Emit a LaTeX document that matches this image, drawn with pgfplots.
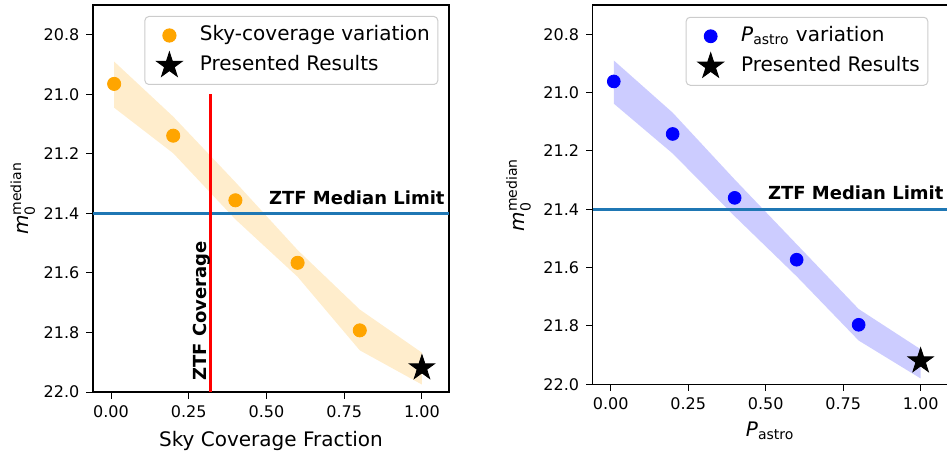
\documentclass[border=0pt]{standalone}
\usepackage{pgfplots}
\pgfplotsset{compat=1.18}
\usepackage{amsmath}
\usepackage{fontspec}
\setmainfont{DejaVu Sans}
\definecolor{mplblue}{HTML}{1F77B4}
\definecolor{orangefill}{HTML}{FFEDCC}
\definecolor{bluefill}{HTML}{CCCCFF}
\definecolor{morange}{HTML}{FFA500}
\definecolor{mblue}{HTML}{0000FF}
\pgfdeclareplotmark{fstar}{%
 \pgfpathmoveto{\pgfqpointpolar{90}{\pgfplotmarksize}}%
 \pgfpathlineto{\pgfqpointpolar{126}{0.382\pgfplotmarksize}}%
 \pgfpathlineto{\pgfqpointpolar{162}{\pgfplotmarksize}}%
 \pgfpathlineto{\pgfqpointpolar{198}{0.382\pgfplotmarksize}}%
 \pgfpathlineto{\pgfqpointpolar{234}{\pgfplotmarksize}}%
 \pgfpathlineto{\pgfqpointpolar{270}{0.382\pgfplotmarksize}}%
 \pgfpathlineto{\pgfqpointpolar{306}{\pgfplotmarksize}}%
 \pgfpathlineto{\pgfqpointpolar{342}{0.382\pgfplotmarksize}}%
 \pgfpathlineto{\pgfqpointpolar{18}{\pgfplotmarksize}}%
 \pgfpathlineto{\pgfqpointpolar{54}{0.382\pgfplotmarksize}}%
 \pgfpathclose
 \pgfusepathqfillstroke}
\pgfplotsset{myax/.style={
 scale only axis, anchor=south west,
 y dir=reverse, ymin=20.7, ymax=22.0, xmin=-0.058, xmax=1.087,
 xtick={0,0.25,0.5,0.75,1}, ytick={20.8,21,21.2,21.4,21.6,21.8,22},
 tick pos=left, tick align=outside, major tick length=3.3pt,
 tick style={black, line width=0.5pt}, axis line style={line width=0.6pt},
 xticklabel style={/pgf/number format/.cd, fixed, fixed zerofill, precision=2},
 yticklabel style={/pgf/number format/.cd, fixed, fixed zerofill, precision=1},
 /pgf/number format/assume math mode=true,
 ticklabel style={font=\fontsize{8}{9.6}\selectfont},
 label style={font=\fontsize{10}{12}\selectfont},
 legend cell align=left,
 legend image code/.code={\path (0pt,0pt) (23pt,0pt); \draw[#1, fill opacity=1, draw opacity=1] plot coordinates {(10pt,0pt)};},
 legend style={anchor=north east, draw=black!20, line width=0.5pt, rounded corners=2pt,
   fill=white, fill opacity=0.8, text opacity=1, inner xsep=2pt, inner ysep=2pt,
   font=\fontsize{10}{12}\selectfont, row sep=0pt,
   nodes={text height=8pt, text depth=3pt, inner ysep=2pt}},
}}
\begin{document}
\begin{tikzpicture}
\path[use as bounding box] (0,0) rectangle (473.5pt,227pt);
\clip (0,0) rectangle (473.5pt,227pt);
\begin{axis}[myax, at={(46.5pt,31pt)}, width=178pt, height=193.5pt,
  xlabel={Sky Coverage Fraction},
  ylabel={\textit{m}$_{\text{0}}^{\text{median}}$},
  xlabel style={at={(axis description cs:0.5,-0.1413)}, anchor=base},
  ylabel style={at={(axis description cs:-0.197,0.5)}, anchor=center, rotate=0},
  legend style={at={(0.970,0.9716)}}]
\addplot[fill=orangefill, draw=none, forget plot] coordinates {(0.01,20.89) (0.2,21.075) (0.4,21.295) (0.6,21.523) (0.8,21.723) (1.0,21.868) (1.0,21.975) (0.8,21.86) (0.6,21.613) (0.4,21.42) (0.2,21.198) (0.01,21.045)} -- cycle;
\addplot[mplblue, line width=1.4pt, forget plot] coordinates {(-0.058,21.4) (1.087,21.4)};
\addplot[red, line width=1.4pt, forget plot] coordinates {(0.32,21.0) (0.32,22.0)};
\addplot[only marks, mark=*, mark size=3.3pt, color=morange] coordinates {(0.01,20.965) (0.2,21.139) (0.4,21.356) (0.6,21.566) (0.8,21.793)};
\addlegendentry{Sky-coverage variation}
\addplot[only marks, mark=fstar, mark size=6.6pt, black] coordinates {(1.0,21.919)};
\addlegendentry{Presented Results}
\node[rotate=90, anchor=base west, font=\bfseries\fontsize{9}{10}\selectfont, inner sep=0pt] at (axis cs:0.3077,21.964) {ZTF Coverage};
\node[anchor=base east, font=\bfseries\fontsize{9}{10}\selectfont, inner sep=0pt] at (axis cs:1.074,21.37) {ZTF Median Limit};
\end{axis}
\begin{axis}[myax, at={(296.35pt,34.85pt)}, width=177.45pt, height=189.65pt,
  xlabel={\textit{P}$_{\text{astro}}$},
  ylabel={\textit{m}$_{\text{0}}^{\text{median}}$},
  xlabel style={at={(axis description cs:0.5,-0.138)}, anchor=base},
  ylabel style={at={(axis description cs:-0.209,0.5)}, anchor=center, rotate=0},
  legend style={at={(0.9456,0.969)}}]
\addplot[fill=bluefill, draw=none, forget plot] coordinates {(0.01,20.89) (0.2,21.069) (0.4,21.298) (0.6,21.52) (0.8,21.742) (1.0,21.88) (1.0,21.98) (0.8,21.85) (0.6,21.63) (0.4,21.424) (0.2,21.209) (0.01,21.038)} -- cycle;
\addplot[mplblue, line width=1.4pt, forget plot] coordinates {(-0.058,21.4) (1.087,21.4)};
\addplot[only marks, mark=*, mark size=3.2pt, color=mblue] coordinates {(0.01,20.962) (0.2,21.142) (0.4,21.361) (0.6,21.573) (0.8,21.796)};
\addlegendentry{\textit{P}$_{\text{astro}}$ variation}
\addplot[only marks, mark=fstar, mark size=6.6pt, black] coordinates {(1.0,21.92)};
\addlegendentry{Presented Results}
\node[anchor=base east, font=\bfseries\fontsize{9}{10}\selectfont, inner sep=0pt] at (axis cs:1.075,21.366) {ZTF Median Limit};
\end{axis}
\end{tikzpicture}
\end{document}
